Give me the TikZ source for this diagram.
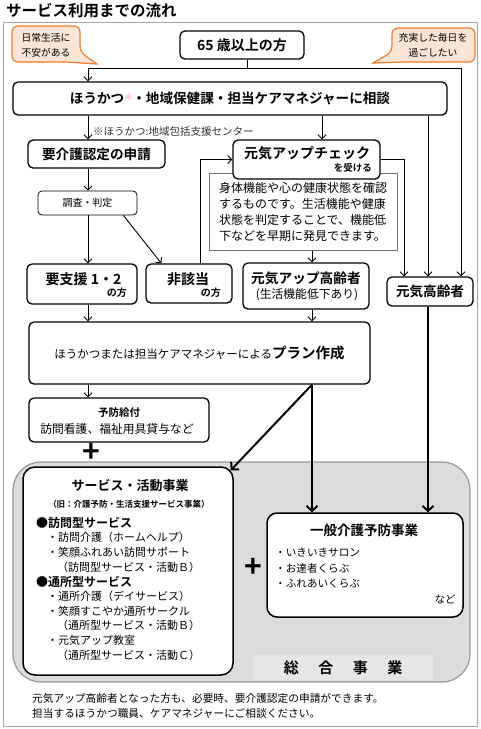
\documentclass[tikz,border=0pt]{standalone}
\usepackage{fontspec}
\setmainfont{Noto Sans CJK JP}[BoldFont={Noto Sans CJK JP Bold}]
\usetikzlibrary{arrows.meta,calc}
\newcommand\fsz[2]{\fontsize{#1}{#2}\selectfont}
\definecolor{calloutorange}{HTML}{ED7D31}
\definecolor{calloutfill}{HTML}{FBE5D6}
\definecolor{areagray}{HTML}{DCDCDC}
\definecolor{bandgray}{HTML}{E6E6E6}
\definecolor{komered}{HTML}{FF7C80}
\begin{document}
\begin{tikzpicture}[x=1pt,y=-1pt,
  box/.style={draw, line width=1.3pt, rounded corners=5pt, fill=white, inner sep=0pt, align=center},
  thinbox/.style={draw, line width=0.8pt, rounded corners=4pt, fill=white, inner sep=0pt},
  txt/.style={inner sep=0pt},
  ln/.style={line width=0.9pt},
  arr/.style={line width=0.9pt, -{Straight Barb[length=4pt,width=8pt]}},
  thickarr/.style={line width=2pt, -{Straight Barb[length=5pt,width=11pt]}},
  callout/.style={draw=calloutorange, fill=calloutfill, line width=1.2pt},
  item/.style={txt, anchor=west, font=\fsz{11}{13}},
  head/.style={txt, anchor=west, font=\bfseries\fsz{12}{14}},
  plussign/.style={txt, font=\bfseries\fsz{30}{30}}
]
\useasboundingbox (0,0) rectangle (480,729);
\fill[white] (0,0) rectangle (480,729);

% title and frame
\node[txt, anchor=west, font=\bfseries\fsz{15.5}{18}] (title) at (6,11) {サービス利用までの流れ};
\draw[black!35, line width=1pt] (3,22) rectangle (477,726);

% callouts
\draw[callout] (12,44) [rounded corners=6pt] -- (12,26) -- (80,26) -- (80,52) [sharp corners] -- (97,64) -- (66,62) [rounded corners=6pt] -- (12,62) -- cycle;
\draw[callout] (475,45) [rounded corners=6pt] -- (475,28) -- (392,28) -- (392,52) [sharp corners] -- (373,63) -- (405,62) [rounded corners=6pt] -- (475,62) -- cycle;
\node[txt, font=\fsz{9.8}{15}, align=center] (cl) at (46,45) {日常生活に\\不安がある};
\node[txt, font=\fsz{9.8}{15}, align=center] (cr) at (433,45) {充実した毎日を\\過ごしたい};

% coordinates
\coordinate (xa) at (88,0);
\coordinate (xb) at (312,0);
\coordinate (xc) at (322,0);
\coordinate (xd) at (428,0);
\coordinate (xe) at (404,0);
\coordinate (xl) at (200,0);
\coordinate (jm) at (247,68);
\coordinate (jl) at (88,68);
\coordinate (jr) at (461,68);

% boxes
\node[box, minimum width=124pt, minimum height=28pt, font=\bfseries\fsz{14}{16}] (b65) at (242,45) {65 歳以上の方};
\node[box, minimum width=434pt, minimum height=33pt, font=\bfseries\fsz{13.6}{16}] (soudan) at (230,98.5) {ほうかつ{\color{komered}\raisebox{3pt}{\fsz{8}{8}※}}・地域保健課・担当ケアマネジャーに相談};
\node[txt, anchor=west, font=\fsz{10.5}{12}, text=black!80] (note) at (93,131) {※ほうかつ:地域包括支援センター};
\node[box, minimum width=137pt, minimum height=28pt, font=\bfseries\fsz{13.6}{16}] (youkaigo) at (96.5,154) {要介護認定の申請};
\node[thinbox, minimum width=99pt, minimum height=24pt, font=\fsz{10}{12}] (chosa) at (87.5,203) {調査・判定};

\node[draw=black!55, line width=0.8pt, fill=white, minimum width=188pt, minimum height=77pt, inner sep=0pt, align=left, font=\fsz{12}{16}] (desc) at (303,212) {身体機能や心の健康状態を確認\\するものです。生活機能や健康\\状態を判定することで、機能低\\下などを早期に発見できます。};
\node[box, minimum width=147pt, minimum height=39pt] (check) at (306.5,159.5) {};
\node[txt, font=\bfseries\fsz{14}{16}] (checkt) at (307,153) {元気アップチェック};
\node[txt, anchor=east, font=\bfseries\fsz{9.5}{11}] (checks) at (372,168) {を受ける};

\node[box, minimum width=110pt, minimum height=40pt] (youshien) at (82,284) {};
\node[txt, font=\bfseries\fsz{14}{16}] (youshient) at (83.5,279) {要支援 1・2};
\node[txt, anchor=east, font=\bfseries\fsz{10}{12}] (youshiens) at (127,293) {の方};

\node[box, minimum width=86pt, minimum height=39pt] (hig) at (189,283.5) {};
\node[txt, font=\bfseries\fsz{14}{16}] (higt) at (188,279) {非該当};
\node[txt, anchor=east, font=\bfseries\fsz{10}{12}] (higs) at (221,293) {の方};

\node[box, minimum width=126pt, minimum height=46pt] (genkiup) at (306,286) {};
\node[txt, font=\bfseries\fsz{13.7}{16}] (genkiupt) at (306,278) {元気アップ高齢者};
\node[txt, font=\fsz{11.8}{14}] (genkiups) at (307,295) {(生活機能低下あり)};

\node[box, minimum width=86pt, minimum height=29pt, font=\bfseries\fsz{13.6}{16}] (genki) at (430,291.5) {元気高齢者};

\node[box, minimum width=341pt, minimum height=62pt] (plan) at (199.5,353) {{\fsz{11.5}{14}ほうかつまたは担当ケアマネジャーによる}{\bfseries\fsz{14.5}{16}プラン作成}};

\node[box, minimum width=180pt, minimum height=44pt] (yobou) at (119,420) {};
\node[txt, font=\bfseries\fsz{10.5}{12}] (yobout) at (119,413) {予防給付};
\node[txt, font=\fsz{11.8}{14}] (yobous) at (117,429) {訪問看護、福祉用具貸与など};

\node[plussign] (plus1) at (91,453) {+};

% thin connectors
\draw[ln] ([xshift=5pt]b65.south) -- (jm);
\draw[ln] (jl) -- (jr);
\draw[arr] (jl) -- (jl |- soudan.north);
\draw[arr] (jr) -- (jr |- genki.north);
\draw[arr] (soudan.south -| xa) -- (youkaigo.north -| xa);
\draw[arr] (soudan.south -| xc) -- (check.north -| xc);
\draw[arr] (soudan.south -| xd) -- (genki.north -| xd);
\draw[arr] (youkaigo.south -| xa) -- (chosa.north -| xa);
\draw[arr] (chosa.south -| xa) -- (youshien.north -| xa);
\draw[arr] ($(chosa.south east)+(-14,0)$) -- ($(hig.north west)+(16,0)$);
\draw[arr] (hig.north -| xl) |- (check.west);
\draw[arr] (check.east) -| (genki.north -| xe);
\draw[arr] (desc.south -| xb) -- (genkiup.north -| xb);
\draw[arr] (youshien.south -| xa) -- (plan.north -| xa);
\draw[arr] (genkiup.south -| xb) -- (plan.north -| xb);
\draw[arr] (plan.south -| xa) -- (yobou.north -| xa);

% lower area
\node[draw=black!40, fill=areagray, line width=1.2pt, rounded corners=28pt, minimum width=457pt, minimum height=220pt, inner sep=0pt] (area) at (241.5,572) {};
\node[fill=bandgray, minimum width=180pt, minimum height=25pt, inner sep=0pt, font=\bfseries\fsz{15}{16}] (sogo) at (343,667.5) {総\hspace{1.3em}合\hspace{1.3em}事\hspace{1.3em}業};

\node[box, line width=1.5pt, rounded corners=12pt, minimum width=210pt, minimum height=208pt] (service) at (128,571) {};
\node[txt, font=\bfseries\fsz{13}{15}] (svtitle) at (130,486) {サービス・活動事業};
\node[txt, font=\bfseries\fsz{8.5}{10}] (svold) at (129,504) {（旧：介護予防・生活支援サービス事業）};
\node[head] (h1) at (36,523) {●訪問型サービス};
\node[item] (i1) at (47,537.7) {・訪問介護（ホームヘルプ）};
\node[item] (i2) at (47,552.3) {・笑顔ふれあい訪問サポート};
\node[item] (i3) at (57,567) {（訪問型サービス・活動Ｂ）};
\node[head] (h2) at (36,581.7) {●通所型サービス};
\node[item] (i4) at (47,596.3) {・通所介護（デイサービス）};
\node[item] (i5) at (47,611) {・笑顔すこやか通所サークル};
\node[item] (i6) at (57,625.7) {（通所型サービス・活動Ｂ）};
\node[item] (i7) at (47,640.3) {・元気アップ教室};
\node[item] (i8) at (57,655) {（通所型サービス・活動Ｃ）};

\node[box, line width=1.5pt, rounded corners=10pt, minimum width=196pt, minimum height=104pt] (ippan) at (365,565) {};
\node[txt, font=\bfseries\fsz{13.5}{15}] (iptitle) at (364,530) {一般介護予防事業};
\node[item, font=\fsz{10.6}{13}] (j1) at (275,553) {・いきいきサロン};
\node[item, font=\fsz{10.6}{13}] (j2) at (275,568) {・お達者くらぶ};
\node[item, font=\fsz{10.6}{13}] (j3) at (275,584) {・ふれあいくらぶ};
\node[txt, anchor=east, font=\fsz{10.6}{13}] (j4) at (456,599) {など};

\node[plussign] (plus2) at (253,568) {+};

% thick connectors
\draw[thickarr] (plan.south -| xb) -- ($(service.north east)+(-3,4)$);
\draw[thickarr] (plan.south -| xb) -- (ippan.north -| xb);
\draw[thickarr] (genki.south -| xd) -- (ippan.north -| xd);

% footnote
\node[txt, anchor=west, font=\fsz{10.7}{13}] (foot1) at (32,698) {元気アップ高齢者となった方も、必要時、要介護認定の申請ができます。};
\node[txt, anchor=west, font=\fsz{10.7}{13}] (foot2) at (32,713) {担当するほうかつ職員、ケアマネジャーにご相談ください。};
\end{tikzpicture}
\end{document}
